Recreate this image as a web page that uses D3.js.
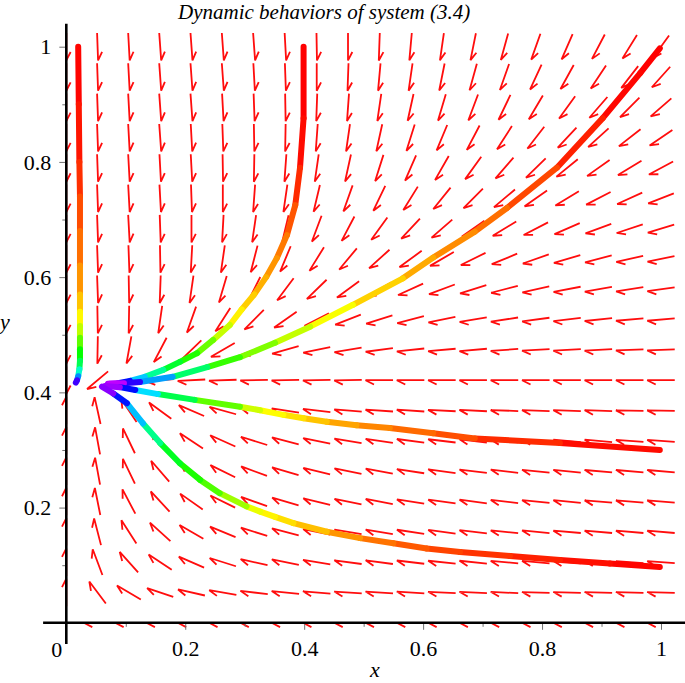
<!DOCTYPE html>
<html><head><meta charset="utf-8">
<script src="https://cdn.jsdelivr.net/npm/d3@7"></script>
<style>
body{margin:0;background:#fff;}
svg text{font-family:"Liberation Serif","Times New Roman",serif;}
</style></head><body>
<div id="chart"></div>
<script>
// direction field grid (x and y values of the arrow centres)
const fieldX = [0,0.0526,0.1053,0.1579,0.2105,0.2632,0.3158,0.3684,0.4211,0.4737,0.5263,0.5789,0.6316,0.6842,0.7368,0.7895,0.8421,0.8947,0.9474,1];
const fieldY = [0,0.0526,0.1053,0.1579,0.2105,0.2632,0.3158,0.3684,0.4211,0.4737,0.5263,0.5789,0.6316,0.6842,0.7368,0.7895,0.8421,0.8947,0.9474,1];

// arrow direction in degrees, one row per fieldY value (bottom row first), null = no arrow
const fieldAngle = [
  [null,180,180,180,180,180,180,180,180,180,180,180,180,180,180,180,180,180,180,180],
  [90,126,149,161,167,170,173,174,175,176,176,176,177,177,177,178,178,178,178,178],
  [90,110,131,146,156,162,167,168,170,172,172,173,174,174,175,175,175,176,176,176],
  [90,104,122,137,149,157,162,165,168,170,170,171,172,173,174,174,175,175,175,175],
  [90,101,117,132,144,153,160,163,166,168,169,171,172,172,173,174,174,175,175,175],
  [90,100,115,130,143,153,159,163,166,168,169,171,172,173,173,174,174,175,175,175],
  [90,100,115,132,146,155,162,165,168,170,171,172,173,173,174,175,175,175,176,176],
  [90,102,123,143,156,164,168,171,173,175,176,176,177,177,178,178,178,178,179,179],
  [270,221,192,185,183,182,181,181,181,181,180,180,180,180,180,180,180,180,180,180],
  [270,269,260,243,225,211,202,196,192,190,188,186,185,185,184,183,183,183,182,182],
  [270,271,269,262,251,238,226,216,208,202,198,195,192,190,189,188,187,186,185,185],
  [270,272,271,268,262,254,244,234,225,217,210,205,201,198,195,193,191,190,189,188],
  [270,272,272,271,267,262,256,248,239,231,223,217,211,207,203,200,197,195,193,192],
  [270,272,273,272,270,267,262,257,250,243,235,228,222,216,212,208,204,201,199,197],
  [270,272,273,273,272,270,266,262,257,251,245,239,232,226,221,216,212,208,205,202],
  [270,272,273,273,273,271,269,266,262,258,253,247,241,235,230,225,220,216,212,209],
  [270,272,273,274,273,272,271,269,266,262,258,253,248,243,238,233,228,223,219,215],
  [270,272,273,274,274,273,272,271,268,266,262,258,254,250,245,240,235,230,226,222],
  [270,272,273,274,274,274,273,272,270,268,265,262,259,255,251,246,242,237,233,229],
  [270,272,273,274,274,274,274,273,271,270,268,265,262,259,255,251,247,243,239,235]
];

// solution curves: [x, y, hue] from the start point to the end point
const curveA = [[0.020,1.000,0],[0.021,0.900,2],[0.022,0.800,8],[0.023,0.740,14],[0.023,0.680,22],[0.023,0.620,30],[0.023,0.570,40],[0.023,0.540,52],[0.023,0.515,65],[0.023,0.495,85],[0.023,0.475,110],[0.023,0.455,128],[0.022,0.440,150],[0.020,0.428,185],[0.018,0.421,230],[0.016,0.417,280]];
const curveB = [[0.399,1.000,0],[0.399,0.876,0],[0.393,0.790,5],[0.385,0.725,15],[0.371,0.673,25],[0.354,0.633,32],[0.336,0.600,38],[0.316,0.570,45],[0.295,0.544,52],[0.275,0.517,62],[0.247,0.491,85],[0.220,0.468,105],[0.191,0.453,120],[0.163,0.439,140],[0.132,0.427,170],[0.107,0.420,215],[0.087,0.416,260],[0.070,0.415,300]];
const curveC = [[0.998,0.997,0],[0.965,0.954,0],[0.902,0.876,3],[0.825,0.790,12],[0.741,0.720,22],[0.687,0.679,30],[0.617,0.634,36],[0.566,0.598,44],[0.482,0.552,55],[0.410,0.514,68],[0.351,0.486,80],[0.292,0.461,100],[0.237,0.444,115],[0.179,0.427,175],[0.124,0.418,230],[0.097,0.416,270],[0.073,0.415,300]];
const curveD = [[0.998,0.300,0],[0.830,0.312,5],[0.687,0.320,15],[0.617,0.329,22],[0.544,0.338,28],[0.488,0.343,35],[0.438,0.349,42],[0.399,0.355,50],[0.365,0.361,56],[0.326,0.369,63],[0.292,0.375,80],[0.216,0.387,115],[0.154,0.397,160],[0.116,0.404,215],[0.090,0.409,260],[0.065,0.411,295]];
const curveE = [[0.998,0.097,0],[0.914,0.103,2],[0.830,0.109,5],[0.746,0.116,10],[0.662,0.123,14],[0.606,0.129,18],[0.550,0.138,24],[0.494,0.147,30],[0.438,0.158,40],[0.382,0.173,50],[0.351,0.184,55],[0.326,0.193,60],[0.303,0.202,70],[0.258,0.225,95],[0.225,0.248,108],[0.191,0.277,120],[0.158,0.312,135],[0.129,0.346,170],[0.102,0.381,220],[0.079,0.398,250],[0.060,0.410,295]];
const curves = [curveA, curveB, curveC, curveD, curveE];

const majorTicks = [0.2, 0.4, 0.6, 0.8, 1];
const minorTicks = [0.1, 0.3, 0.5, 0.7, 0.9];
const titleText = "Dynamic behaviors of system (3.4)";

const W = 685, H = 683;
const x = d3.scaleLinear().domain([0, 1]).range([66.3, 661]);
const y = d3.scaleLinear().domain([0, 1]).range([622.8, 46.7]);
const xMin = -0.039, xMax = 1.041, yMin = -0.037, yMax = 1.04;

const svg = d3.select("#chart").append("svg")
  .attr("width", W).attr("height", H)
  .attr("viewBox", "0 0 " + W + " " + H);

// === direction field
const arrowLen = 27.5, barbLen = 9.5, barbAng = 27 * Math.PI / 180;
const arrows = [];
fieldY.forEach((yv, i) => {
  fieldX.forEach((xv, j) => {
    const a = fieldAngle[i][j];
    if (a === null) return;
    const r = a * Math.PI / 180;
    let dx = Math.cos(r) * (x(1) - x(0)), dy = -Math.sin(r) * (y(0) - y(1));
    const n = Math.hypot(dx, dy); dx /= n; dy /= n;
    const cx = x(xv), cy = y(yv);
    const tx = cx + dx * arrowLen / 2, ty = cy + dy * arrowLen / 2;
    // barb: back direction turned clockwise on screen
    const bx = -dx * Math.cos(barbAng) + dy * Math.sin(barbAng);
    const by = -dx * Math.sin(barbAng) - dy * Math.cos(barbAng);
    arrows.push("M" + (cx - dx * arrowLen / 2) + "," + (cy - dy * arrowLen / 2) +
      "L" + tx + "," + ty + "L" + (tx + bx * barbLen) + "," + (ty + by * barbLen));
  });
});
svg.append("g").selectAll("path").data(arrows).join("path")
  .attr("d", d => d)
  .attr("fill", "none")
  .attr("stroke", "#ff0d0d")
  .attr("stroke-width", 1.8)
  .attr("stroke-linejoin", "miter");

// === solution curves, coloured by hue along time
const curveLayer = svg.append("g");
curves.forEach(c => {
  const segs = d3.pairs(c);
  curveLayer.append("g").selectAll("line").data(segs).join("line")
    .attr("x1", d => x(d[0][0])).attr("y1", d => y(d[0][1]))
    .attr("x2", d => x(d[1][0])).attr("y2", d => y(d[1][1]))
    .attr("stroke", d => d3.hsl((d[0][2] + d[1][2]) / 2, 1, 0.5))
    .attr("stroke-width", 6)
    .attr("stroke-linecap", "round");
});

// === axes
const fontSize = 22;
const xAxis = svg.append("g").attr("transform", "translate(0," + y(0) + ")")
  .call(d3.axisBottom(x).tickValues(majorTicks).tickFormat(d3.format("")).tickSize(7).tickPadding(11));
const xMinor = svg.append("g").attr("transform", "translate(0," + y(0) + ")")
  .call(d3.axisBottom(x).tickValues(minorTicks).tickFormat("").tickSize(4));
const yAxis = svg.append("g").attr("transform", "translate(" + x(0) + ",0)")
  .call(d3.axisLeft(y).tickValues(majorTicks).tickFormat(d3.format("")).tickSize(7).tickPadding(8));
const yMinor = svg.append("g").attr("transform", "translate(" + x(0) + ",0)")
  .call(d3.axisLeft(y).tickValues(minorTicks).tickFormat("").tickSize(4));
[xAxis, xMinor, yAxis, yMinor].forEach(g => {
  g.select(".domain").remove();
  g.selectAll(".tick line").attr("stroke", "#707070").attr("stroke-width", 1);
  g.selectAll("text").attr("font-family", "Liberation Serif").attr("font-size", fontSize).attr("fill", "#000");
});
yAxis.selectAll("text").attr("dy", "0.33em");

svg.append("text").attr("x", x(0) - 4).attr("y", 657)
  .attr("text-anchor", "end").attr("font-size", fontSize).text("0");

svg.append("line")
  .attr("x1", x(xMin)).attr("x2", x(xMax)).attr("y1", y(0)).attr("y2", y(0))
  .attr("stroke", "#000").attr("stroke-width", 2.6);
svg.append("line")
  .attr("x1", x(0)).attr("x2", x(0)).attr("y1", y(yMin)).attr("y2", y(yMax))
  .attr("stroke", "#000").attr("stroke-width", 2.6);

// === labels
svg.append("text").attr("x", 178).attr("y", 19)
  .attr("font-size", 21).attr("font-style", "italic")
  .text(titleText);
svg.append("text").attr("x", 375).attr("y", 677)
  .attr("text-anchor", "middle").attr("font-size", fontSize).attr("font-style", "italic")
  .text("x");
svg.append("text").attr("x", 0).attr("y", 329)
  .attr("font-size", fontSize).attr("font-style", "italic")
  .text("y");
</script></body></html>
